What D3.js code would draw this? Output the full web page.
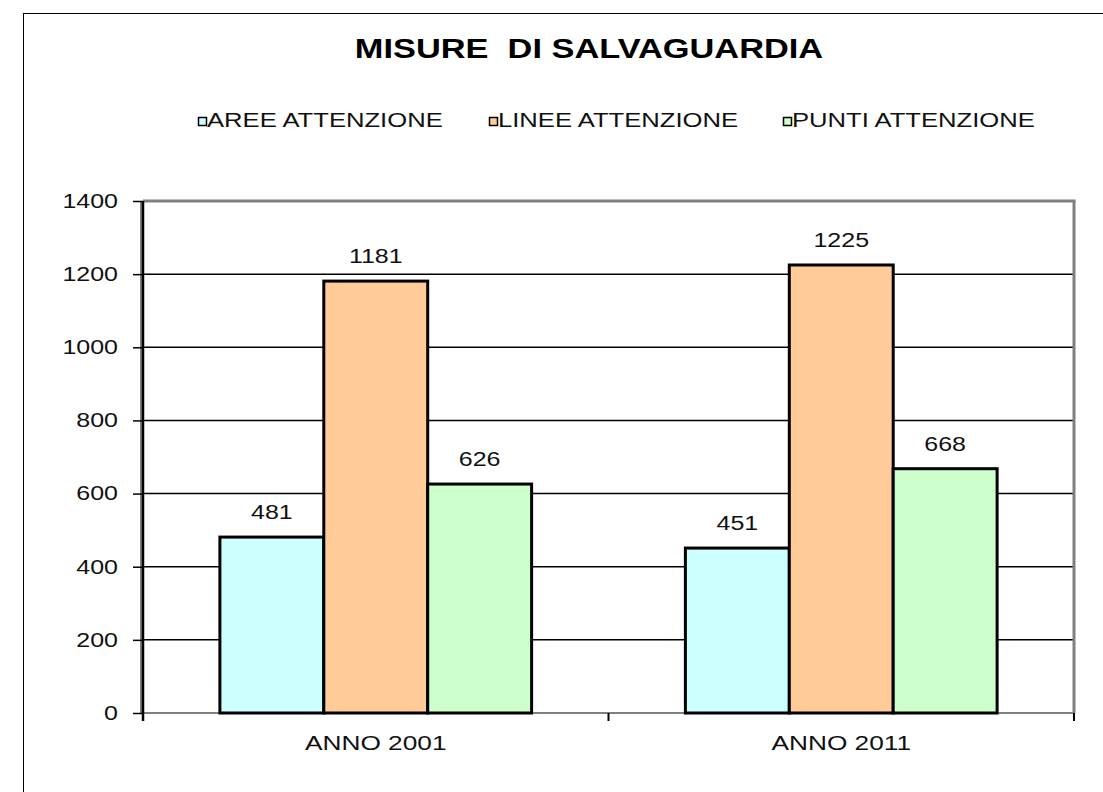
<!DOCTYPE html>
<html>
<head>
<meta charset="utf-8">
<script src="https://cdn.jsdelivr.net/npm/d3@7/dist/d3.min.js"></script>
<style>
  html, body { margin: 0; padding: 0; background: #fff; }
  svg { display: block; font-family: "Liberation Sans", Arial, sans-serif; }
</style>
</head>
<body>
<svg id="chart" width="1103" height="792"></svg>
<script>
// Misure di salvaguardia per anno
const categories = ["ANNO 2001", "ANNO 2011"];
const seriesNames = ["AREE ATTENZIONE", "LINEE ATTENZIONE", "PUNTI ATTENZIONE"];
const aree = [481, 451];
const linee = [1181, 1225];
const punti = [626, 668];
const yTicks = [0, 200, 400, 600, 800, 1000, 1200, 1400];
const colors = ["#CCFFFF", "#FFCC99", "#CCFFCC"];

const seriesValues = [aree, linee, punti];
const rows = categories.map((c, i) => ({
  category: c,
  values: seriesNames.map((s, j) => ({ series: s, value: seriesValues[j][i], color: colors[j] }))
}));

// text in this chart is drawn slightly widened
const SX = 1.25;

const svg = d3.select("#chart");
const plot = { left: 143, right: 1074, top: 201, bottom: 713 };

// outer chart frame
svg.append("rect")
  .attr("x", 23.5).attr("y", 13.5)
  .attr("width", 1120).attr("height", 820)
  .attr("fill", "#fff").attr("stroke", "#000").attr("stroke-width", 1);

// title
svg.append("text")
  .attr("transform", `translate(589,58) scale(${SX},1)`)
  .attr("text-anchor", "middle")
  .attr("font-size", 27.5).attr("font-weight", "bold")
  .attr("xml:space", "preserve")
  .text("MISURE  DI SALVAGUARDIA");

// legend
const legendX = [198, 489, 783];
const legend = svg.append("g");
seriesNames.forEach((s, i) => {
  const g = legend.append("g").attr("transform", `translate(${legendX[i]},127)`);
  g.append("rect").attr("x", 0.5).attr("y", -9.5).attr("width", 8).attr("height", 8)
    .attr("fill", colors[i]).attr("stroke", "#000").attr("stroke-width", 1.5);
  g.append("text")
    .attr("transform", `translate(9,0) scale(${SX},1)`)
    .attr("font-size", 20.5).attr("fill", "#111")
    .text(s);
});

const y = d3.scaleLinear().domain([0, 1400]).range([plot.bottom, plot.top]);
const x0 = d3.scaleBand().domain(categories).range([plot.left, plot.right]).padding(0);
const x1 = d3.scaleBand().domain(seriesNames).range([0, x0.bandwidth()]).paddingInner(0).paddingOuter(0.74);

// gridlines
svg.append("g")
  .selectAll("line")
  .data(yTicks.filter(t => t > 0 && t < 1400))
  .join("line")
  .attr("x1", plot.left).attr("x2", plot.right)
  .attr("y1", d => y(d)).attr("y2", d => y(d))
  .attr("stroke", "#000").attr("stroke-width", 1.5);

// plot frame: grey top, right and bottom
svg.append("line").attr("x1", plot.left).attr("x2", plot.right + 1.5)
  .attr("y1", plot.top).attr("y2", plot.top).attr("stroke", "#808080").attr("stroke-width", 3);
svg.append("line").attr("x1", plot.right).attr("x2", plot.right)
  .attr("y1", plot.top).attr("y2", plot.bottom).attr("stroke", "#808080").attr("stroke-width", 3);
svg.append("line").attr("x1", plot.left).attr("x2", plot.right)
  .attr("y1", plot.bottom).attr("y2", plot.bottom).attr("stroke", "#808080").attr("stroke-width", 2);
svg.append("line").attr("x1", plot.left - 2).attr("x2", plot.left - 2)
  .attr("y1", plot.top).attr("y2", plot.bottom).attr("stroke", "#808080").attr("stroke-width", 2);

// bars
const groups = svg.append("g").selectAll("g")
  .data(rows).join("g")
  .attr("transform", d => `translate(${x0(d.category)},0)`);

groups.selectAll("rect")
  .data(d => d.values).join("rect")
  .attr("x", d => x1(d.series))
  .attr("y", d => y(d.value))
  .attr("width", x1.bandwidth())
  .attr("height", d => y(0) - y(d.value))
  .attr("fill", d => d.color)
  .attr("stroke", "#000").attr("stroke-width", 3);

groups.selectAll("text")
  .data(d => d.values).join("text")
  .attr("transform", d => `translate(${x1(d.series) + x1.bandwidth() / 2},${y(d.value) - 18}) scale(${SX},1)`)
  .attr("text-anchor", "middle")
  .attr("font-size", 20).attr("fill", "#111")
  .text(d => d.value);

// y axis
const yAxis = d3.axisLeft(y).tickValues(yTicks).tickFormat(d3.format("d")).tickSize(10).tickPadding(14);
const gy = svg.append("g").attr("transform", `translate(${plot.left},0)`).call(yAxis);
gy.select(".domain").attr("stroke", "#000").attr("stroke-width", 2.5).attr("d", `M0,${plot.top}V${plot.bottom + 8}`);
gy.selectAll(".tick line").attr("stroke", "#000").attr("stroke-width", 1.5);
gy.selectAll(".tick text")
  .attr("x", -25 / SX)
  .attr("transform", `scale(${SX},1)`)
  .attr("font-size", 20).attr("fill", "#111")
  .attr("font-family", "Liberation Sans, Arial, sans-serif");

// x axis
const xAxis = d3.axisBottom(x0).tickSize(0).tickPadding(22);
const gx = svg.append("g").attr("transform", `translate(0,${plot.bottom})`).call(xAxis);
gx.select(".domain").remove();
gx.selectAll(".tick text")
  .attr("transform", `scale(${SX},1)`)
  .attr("font-size", 21).attr("fill", "#111")
  .attr("font-family", "Liberation Sans, Arial, sans-serif");

// category boundary ticks
const boundaries = [plot.left, x0(categories[1]), plot.right];
svg.append("g").selectAll("line").data(boundaries).join("line")
  .attr("x1", d => d).attr("x2", d => d)
  .attr("y1", plot.bottom).attr("y2", plot.bottom + 8)
  .attr("stroke", "#000").attr("stroke-width", 2);
</script>
</body>
</html>
